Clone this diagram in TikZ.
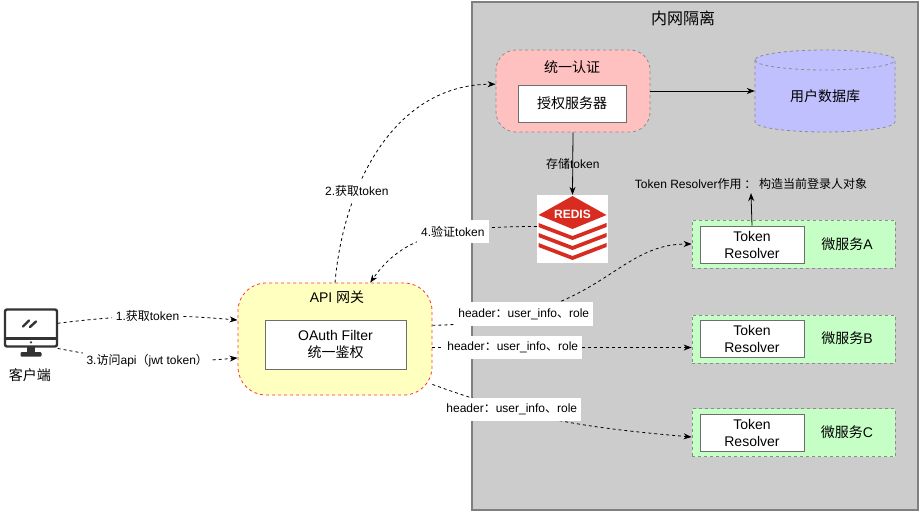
\documentclass[tikz,border=0pt]{standalone}
\usepackage{fontspec}
\setmainfont{Liberation Sans}
\newfontfamily\cjk{Noto Sans CJK SC}
\newcommand{\zh}[1]{{\cjk #1}}
\usepackage{tikz}
\usepackage{xcolor}
\usetikzlibrary{calc,arrows.meta}
\definecolor{lanfill}{HTML}{CCCCCC}
\definecolor{lanline}{HTML}{7F7F7F}
\definecolor{grpline}{HTML}{8C8C8C}
\definecolor{boxline}{HTML}{6E6E6E}
\definecolor{authfill}{HTML}{FFC0C0}
\definecolor{dbfill}{HTML}{C0C0FF}
\definecolor{svcfill}{HTML}{C6FFC6}
\definecolor{apifill}{HTML}{FFFFC0}
\definecolor{apiline}{HTML}{FF3333}
\definecolor{redisred}{HTML}{D82C20}
\definecolor{icongray}{HTML}{333333}

\begin{document}
\begin{tikzpicture}[x=1pt,y=-1pt]
	\tikzstyle{every node}=[font=\fontsize{14}{17}\selectfont]
	\tikzstyle{zone}=[draw=lanline, fill=lanfill, line width=2pt, minimum width=446pt, minimum height=508pt]
	\tikzstyle{group}=[draw=grpline, dash pattern=on 3pt off 3pt, line width=0.8pt]
	\tikzstyle{inbox}=[draw=boxline, fill=white, line width=0.8pt, align=center]
	\tikzstyle{svc}=[group, fill=svcfill, minimum width=203pt, minimum height=48pt]
	\tikzstyle{lbl}=[fill=white, font=\fontsize{12}{14}\selectfont, inner xsep=4pt, inner ysep=6pt]
	\tikzstyle{link}=[draw=black, line width=0.8pt, dash pattern=on 3pt off 3pt, -{Stealth[length=8pt,width=6pt]}]
	\tikzstyle{arrow}=[draw=black, line width=0.8pt, -{Stealth[length=8pt,width=6pt]}]
	\tikzstyle{icon}=[draw=icongray, line width=2.4pt, line cap=round]
	\useasboundingbox (0,0) rectangle (922,512);

	% intranet
	\node[zone] (lan) at (695,256) {};
	\node[font=\fontsize{16}{19}\selectfont] (lantitle) at (683,18) {\zh{内网隔离}};

	% auth
	\node[group, fill=authfill, rounded corners=20pt, minimum width=154pt, minimum height=82pt] (auth) at (573,91) {};
	\node (authtitle) at (572,67) {\zh{统一认证}};
	\node[inbox, minimum width=108pt, minimum height=37pt] (authsrv) at (572,103.5) {\zh{授权服务器}};

	% user db
	\filldraw[group, fill=dbfill] (755,60) -- (755,122) arc[start angle=180,end angle=0,x radius=70,y radius=10]
		-- (895,60) arc[start angle=0,end angle=-180,x radius=70,y radius=10] -- cycle;
	\draw[group] (755,60) arc[start angle=180,end angle=0,x radius=70,y radius=10];
	\node[minimum width=140pt, minimum height=72pt] (userdb) at (825,96) {\zh{用户数据库}};

	% redis
	\node[fill=white, minimum width=71pt, minimum height=68pt] (redis) at (572.5,229) {};
	\begin{scope}[shift={(redis.center)}]
		\fill[redisred] (-34,-14) -- (0,-33) -- (34,-14) -- (0,0) -- cycle;
		\fill[redisred] (-34,-6) -- (0,7) -- (34,-6) -- (34,-2) -- (0,11) -- (-34,-2) -- cycle;
		\fill[redisred] (-34,4) -- (0,17) -- (34,4) -- (34,8) -- (0,21) -- (-34,8) -- cycle;
		\fill[redisred] (-34,14) -- (0,27) -- (34,14) -- (34,18) -- (0,31) -- (-34,18) -- cycle;
		\node[text=white, font=\bfseries\fontsize{12}{12}\selectfont] (redistxt) at (0,-15) {REDIS};
	\end{scope}

	% services
	\node[font=\fontsize{12}{14}\selectfont] (note) at (751,184) {Token Resolver\zh{作用 ： 构造当前登录人对象}};
	\node[svc] (svcA) at (793.5,244) {};
	\node[inbox, minimum width=104pt, minimum height=37pt] (resA) at (752,244.5) {Token\\Resolver};
	\node (nameA) at (847,244) {\zh{微服务}A};
	\node[svc] (svcB) at (793.5,339) {};
	\node[inbox, minimum width=104pt, minimum height=37pt] (resB) at (752,339) {Token\\Resolver};
	\node (nameB) at (847,338) {\zh{微服务}B};
	\node[svc] (svcC) at (793.5,432.5) {};
	\node[inbox, minimum width=104pt, minimum height=37pt] (resC) at (752,432.5) {Token\\Resolver};
	\node (nameC) at (847,432) {\zh{微服务}C};

	% gateway
	\node[draw=apiline, fill=apifill, dash pattern=on 3pt off 3pt, line width=0.8pt, rounded corners=28pt,
		minimum width=194pt, minimum height=112pt] (api) at (335,339) {};
	\node (apititle) at (337,297) {API \zh{网关}};
	\node[inbox, minimum width=141pt, minimum height=49pt] (filter) at (335.5,344.5) {OAuth Filter\\\zh{统一鉴权}};

	% client
	\node[minimum width=53pt, minimum height=48pt] (client) at (31,333) {};
	\draw[icon, rounded corners=2pt] (5,309.5) rectangle (57,346.5);
	\draw[icon] (5,338.5) -- (57,338.5);
	\draw[icon] (23,326.5) -- (29,320.5);
	\draw[icon] (30,327) -- (36,321.5);
	\fill[icongray] (31,342.3) circle (1.3pt);
	\fill[icongray] (27,346.5) rectangle (35,352.5);
	\fill[icongray, rounded corners=1pt] (20.5,352) rectangle (41.5,356.5);
	\node (clientlbl) at (30,375) {\zh{客户端}};

	\draw[arrow] (auth.east) -- (auth.east -| userdb.west);
	\draw[arrow] (auth.south) -- node[font=\fontsize{12}{14}\selectfont] {\zh{存储}token} (redis.north);
	\draw[arrow] (resA.north) -- (note.south);

	\draw[link] (client.20) to[bend left=6] node[lbl] {1.\zh{获取}token} (api.169);
	\draw[link] (client.-30) to[bend right=8] node[lbl] {3.\zh{访问}api\zh{（}jwt token\zh{）}} (api.191);
	\draw[link] (api.north) to[out=85,in=180] node[lbl, pos=0.32] {2.\zh{获取}token} (auth.175);
	\draw[link] (redis.176) to[out=180,in=55,out looseness=1.4,in looseness=0.8] node[lbl, pos=0.36] {4.\zh{验证}token} (api.58);
	\draw[link] (api.8) .. controls +(170,-3) and +(-80,0) .. node[lbl, pos=0.22] {header\zh{：}user\_info\zh{、}role} (svcA.west);
	\draw[link] (api.-5) -- node[lbl, pos=0.31] {header\zh{：}user\_info\zh{、}role} (api.-5 -| svcB.west);
	\draw[link] (api.-25) to[out=-20,in=175] node[lbl, pos=0.3] {header\zh{：}user\_info\zh{、}role} ($(svcC.west)+(0,4.5)$);
\end{tikzpicture}
\end{document}
